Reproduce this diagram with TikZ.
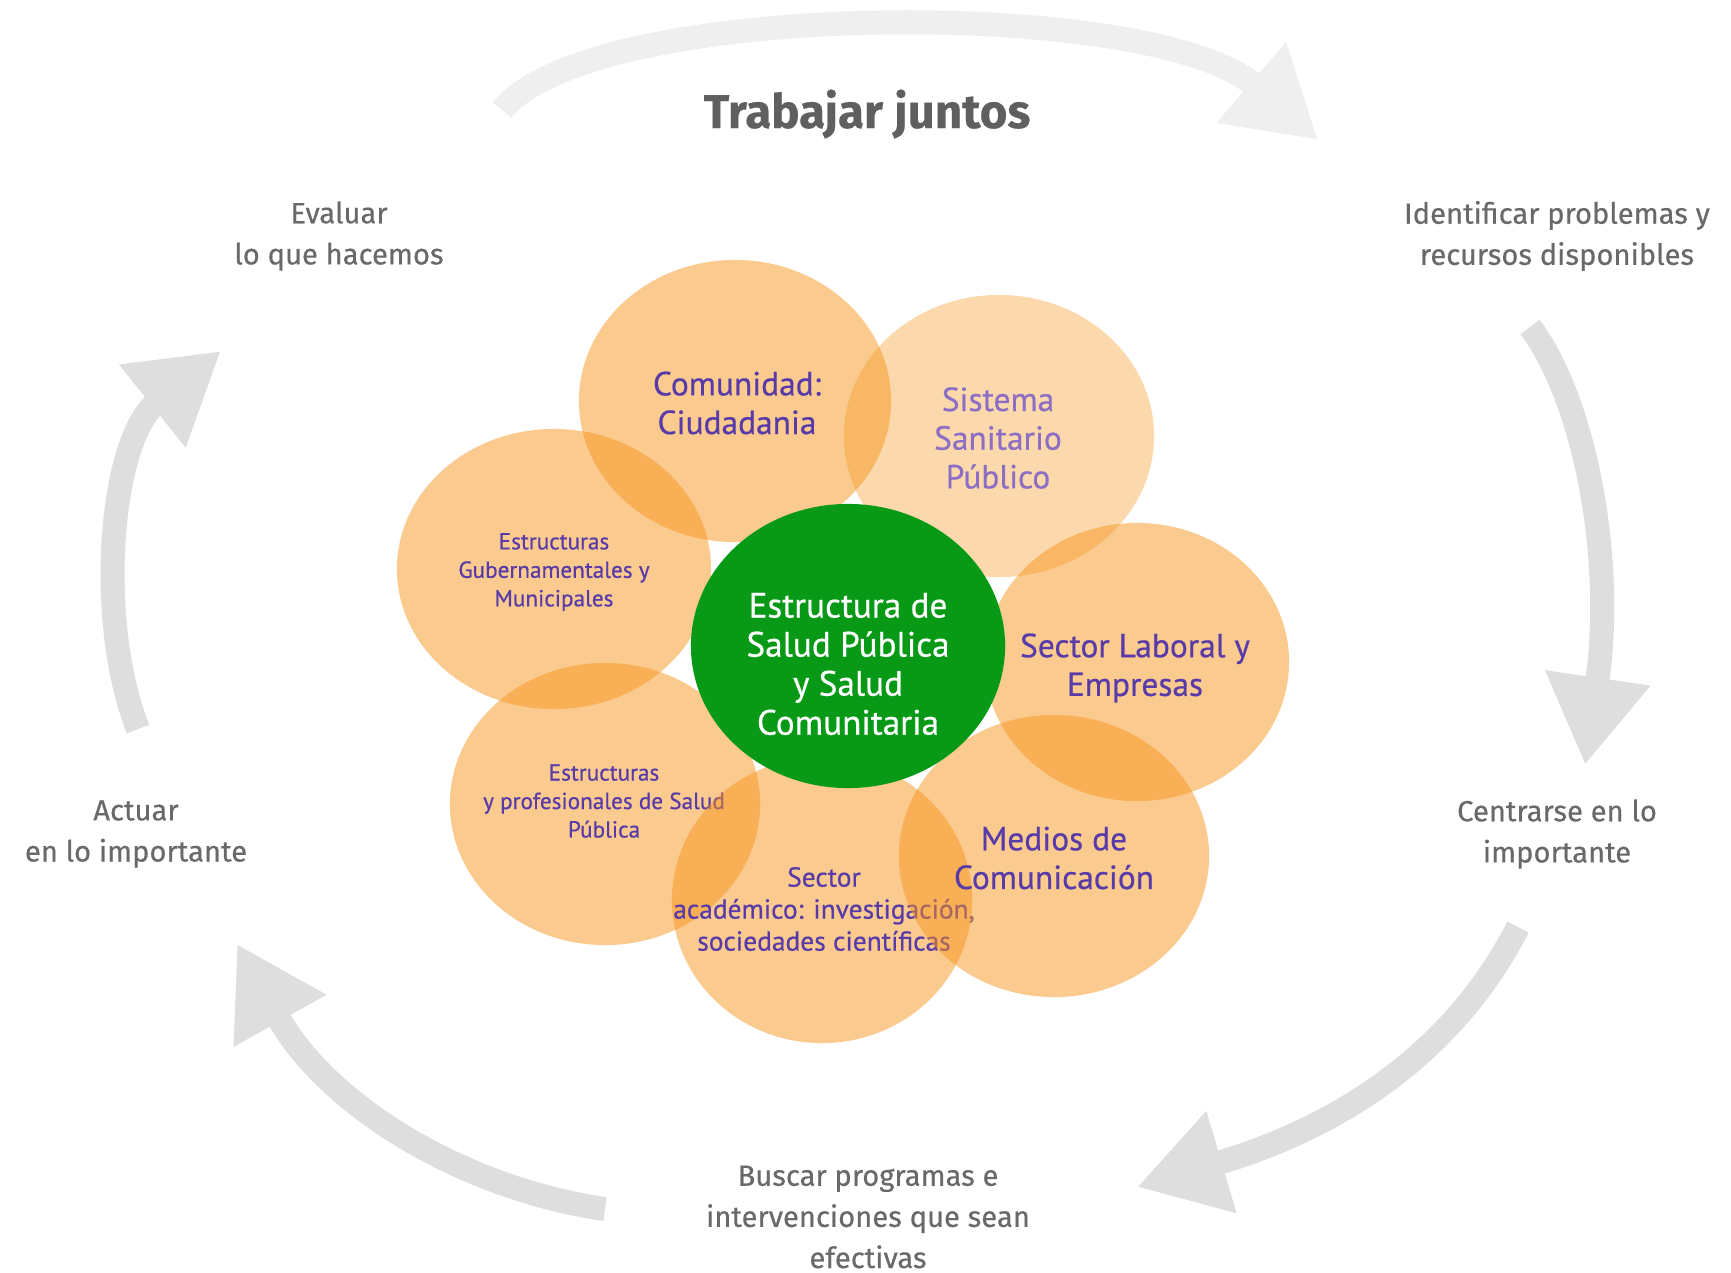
\documentclass[tikz,border=0pt]{standalone}
\usepackage{fontspec}
\setmainfont{PT Sans}
\newfontfamily\petalfont{PT Sans}[FakeBold=0.5]
\newfontfamily\grayfont{Fira Sans}[FakeBold=0.4]
\usetikzlibrary{arrows.meta,shapes.geometric}
\definecolor{petal}{RGB}{247,150,30}
\definecolor{txtpurple}{RGB}{88,58,168}
\definecolor{lightpurple}{RGB}{140,110,196}
\definecolor{hubgreen}{RGB}{8,154,22}
\definecolor{labelgray}{RGB}{105,105,105}
\definecolor{arrowgray}{RGB}{222,222,222}
\definecolor{faintgray}{RGB}{239,239,239}
\tikzset{
  petalshape/.style={ellipse, draw=none, fill=petal, fill opacity=0.5, inner sep=0pt},
  bigtxt/.style={align=center, text=txtpurple, font=\petalfont\fontsize{9.5}{11}\selectfont},
  smalltxt/.style={align=center, text=txtpurple, font=\petalfont\fontsize{6.6}{8.1}\selectfont},
  midtxt/.style={align=center, text=txtpurple, font=\petalfont\fontsize{7.8}{9.1}\selectfont},
  graylabel/.style={align=center, text=labelgray, font=\grayfont\fontsize{8.3}{11.7}\selectfont},
  cyclearrow/.style={draw=arrowgray, line width=0.24cm, -{Triangle[width=1.0cm,length=0.88cm]}},
}
\begin{document}
\begin{tikzpicture}[x=0.01cm, y=-0.01cm]
\useasboundingbox (0,0) rectangle (1731,1272);
\fill[white] (0,0) rectangle (1731,1272);

% cycle arrows
\coordinate (topA) at (502,110);
\coordinate (topB) at (1318,140);
\coordinate (ruA) at (1530,327);
\coordinate (ruB) at (1585,765);
\coordinate (rlA) at (1518,927);
\coordinate (rlB) at (1137,1187);
\coordinate (llA) at (605,1209);
\coordinate (llB) at (237,944);
\coordinate (luA) at (138,729);
\coordinate (luB) at (221,351);
\draw[cyclearrow, draw=faintgray] (topA) .. controls (590,0) and (1150,-5) .. (topB);
\draw[cyclearrow] (ruA) .. controls (1585,400) and (1615,560) .. (ruB);
\draw[cyclearrow] (rlA) .. controls (1450,1060) and (1330,1130) .. (rlB);
\draw[cyclearrow] (llA) .. controls (470,1190) and (330,1110) .. (llB);
\draw[cyclearrow] (luA) .. controls (95,620) and (110,440) .. (luB);

% outer labels
\node[graylabel, font=\grayfont\bfseries\fontsize{13.5}{16}\selectfont, text=labelgray!90!black] (title) at (867,114) {Trabajar juntos};
\node[graylabel] (evaluar) at (339,236) {Evaluar\\lo que hacemos};
\node[graylabel] (identificar) at (1557,236) {Identificar problemas y\\recursos disponibles};
\node[graylabel] (centrarse) at (1557,834) {Centrarse en lo\\importante};
\node[graylabel] (actuar) at (136,834) {Actuar\\en lo importante};
\node[graylabel] (buscar) at (868,1217) {Buscar programas e\\intervenciones que sean\\efectivas};

% petals
\node[petalshape, minimum width=3.14cm, minimum height=2.80cm] (gubC) at (554,569) {};
\node[smalltxt] (gub) at (554,572) {Estructuras\\Gubernamentales y\\Municipales};
\node[petalshape, minimum width=3.12cm, minimum height=2.82cm] (comC) at (735,401) {};
\node[bigtxt] (com) at (737,403) {Comunidad:\\Ciudadania};
\node[petalshape, fill opacity=0.36, minimum width=3.10cm, minimum height=2.82cm] (sisC) at (999,436) {};
\node[bigtxt, text=lightpurple] (sis) at (998,438) {Sistema\\Sanitario\\Público};
\node[petalshape, minimum width=3.04cm, minimum height=2.78cm] (labC) at (1137,662) {};
\node[bigtxt] (lab) at (1135,668) {Sector Laboral y\\Empresas};
\node[petalshape, minimum width=3.10cm, minimum height=2.82cm] (proC) at (605,804) {};
\node[smalltxt] (pro) at (604,801) {Estructuras\\y profesionales de Salud\\Pública};
\node[petalshape, minimum width=3.00cm, minimum height=2.86cm] (acaC) at (822,900) {};
\node[midtxt] (aca) at (824,909) {Sector\\académico: investigación,\\sociedades científicas};
\node[petalshape, minimum width=3.10cm, minimum height=2.82cm] (medC) at (1054,856) {};
\node[bigtxt] (med) at (1054,858) {Medios de\\Comunicación};

% hub
\node[ellipse, fill=hubgreen, draw=none, minimum width=3.14cm, minimum height=2.84cm] (hubC) at (848,646) {};
\node[align=center, text=white, font=\petalfont\fontsize{10}{11.1}\selectfont] (hub) at (848,664) {Estructura de\\Salud Pública\\y Salud\\Comunitaria};
\end{tikzpicture}
\end{document}
